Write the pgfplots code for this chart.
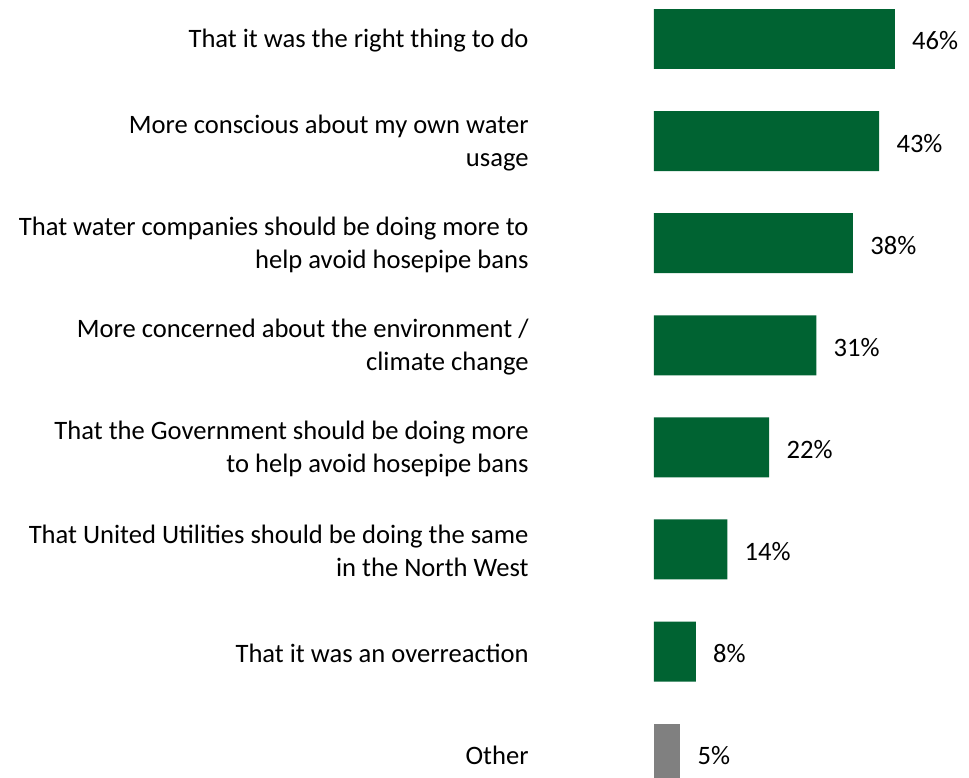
\documentclass[border=0pt]{standalone}
\usepackage{pgfplots}
\pgfplotsset{compat=1.18}
\usepackage{fontspec}
\setmainfont{Carlito}
\definecolor{bargreen}{RGB}{0,99,50}
\definecolor{bargrey}{RGB}{128,128,128}
\begin{document}
\begin{tikzpicture}[x=1pt,y=1pt]
\begin{axis}[
  width=484.5pt, height=389pt, scale only axis,
  xbar, bar shift=0pt, bar width=0.5874,
  xmin=-124.83, xmax=60.12,
  y dir=reverse, ymin=-0.382, ymax=7.235,
  axis line style={draw=none},
  major tick length=0pt,
  xtick=\empty,
  ytick={0,1,2,3,4,5,6,7},
  yticklabels={
    {That it was the right thing to do},
    {More conscious about my own water\\usage},
    {That water companies should be doing more to\\help avoid hosepipe bans},
    {More concerned about the environment /\\climate change},
    {That the Government should be doing more\\to help avoid hosepipe bans},
    {That United Utilities should be doing the same\\in the North West},
    {That it was an overreaction},
    {Other}},
  yticklabel style={anchor=east, align=right, inner sep=0pt, xshift=264.5pt, yshift=-0.8pt,
    font=\fontsize{13.3pt}{16.5pt}\selectfont},
  clip=true,
  point meta=x,
  nodes near coords={\pgfmathprintnumber{\pgfplotspointmeta}\%},
  nodes near coords style={anchor=west, inner sep=0pt, xshift=8.5pt, yshift=-1pt,
    font=\fontsize{13.3pt}{15pt}\selectfont, text=black},
  /pgf/number format/assume math mode=true,
]
\addplot[fill=bargreen, draw=none] coordinates {
  (46,0) (43,1) (38,2) (31,3) (22,4) (14,5) (8,6)};
\addplot[fill=bargrey, draw=none] coordinates {(5,7)};
\end{axis}
\end{tikzpicture}
\end{document}
